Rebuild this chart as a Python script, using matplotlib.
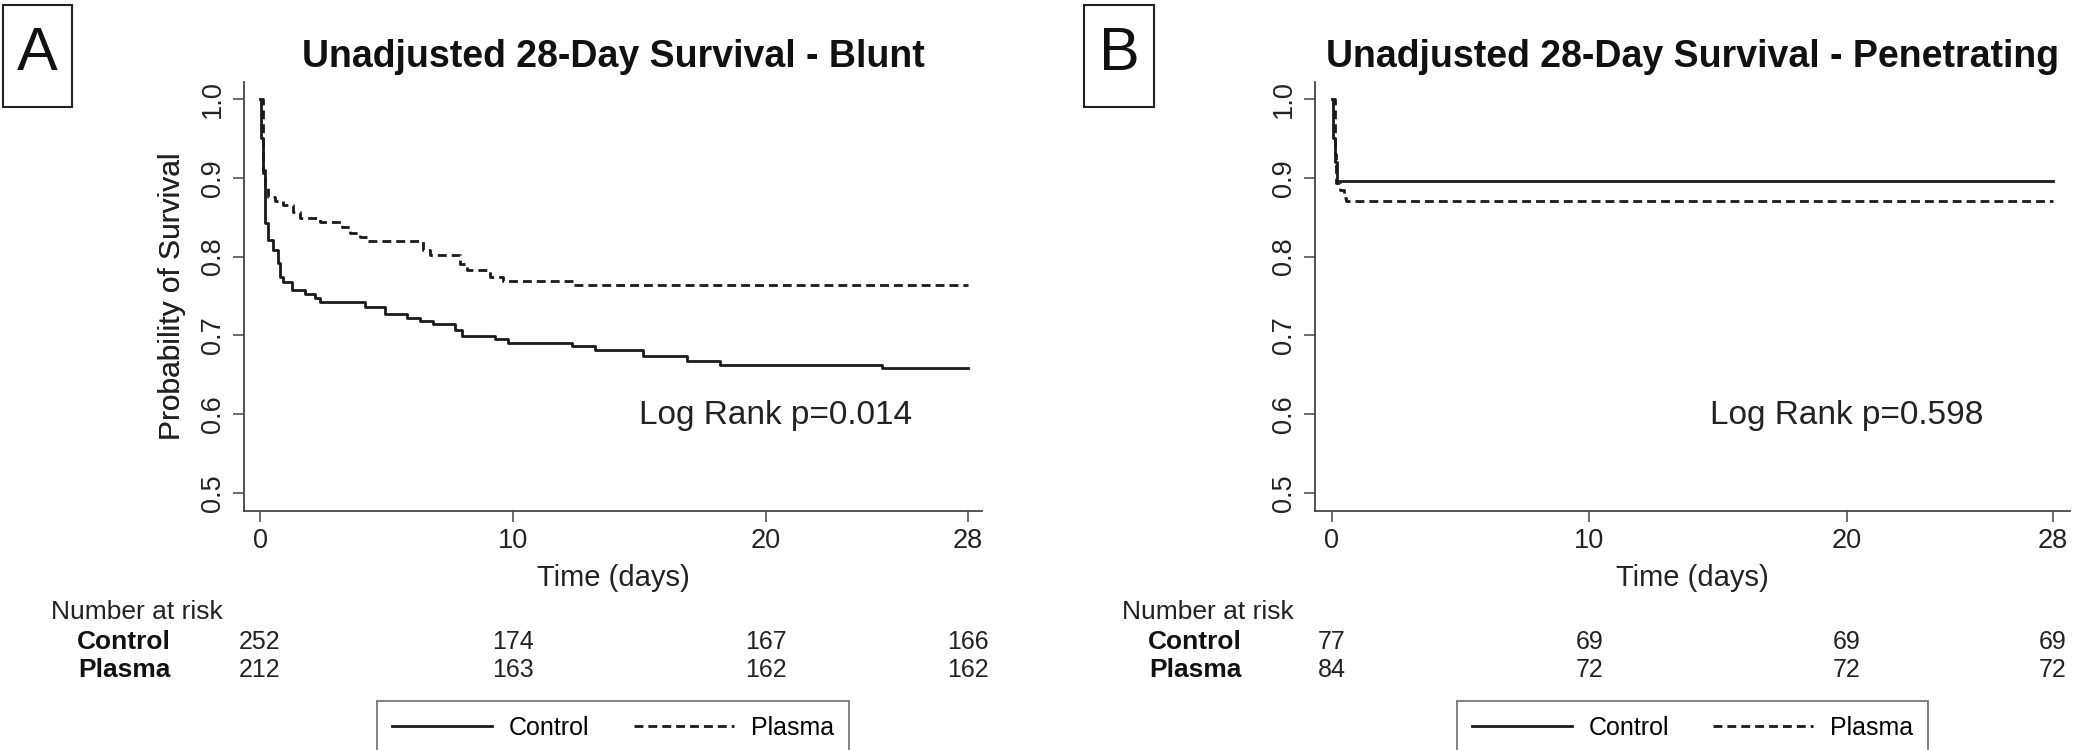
import matplotlib
matplotlib.use('Agg')
import matplotlib.pyplot as plt
from matplotlib.patches import Rectangle
import matplotlib.transforms as mtransforms

plt.rcParams['font.family'] = ['Liberation Sans', 'DejaVu Sans']

# Kaplan-Meier curves (time in days, survival)
blunt_control_t = [0, 0.05, 0.13, 0.2, 0.33, 0.53, 0.72, 0.79, 0.92, 1.25, 1.78, 2.17,
                   2.37, 4.15, 4.94, 5.8, 6.33, 6.85, 7.71, 7.97, 9.29, 9.82, 12.32,
                   13.25, 15.16, 16.87, 18.19, 24.58, 28]
blunt_control_s = [1.0, 0.95, 0.906, 0.843, 0.821, 0.808, 0.792, 0.774, 0.768, 0.758, 0.753,
                   0.747, 0.743, 0.736, 0.727, 0.722, 0.718, 0.714, 0.707, 0.699, 0.695,
                   0.690, 0.687, 0.682, 0.674, 0.667, 0.662, 0.659, 0.659]
blunt_plasma_t = [0, 0.13, 0.2, 0.33, 0.6, 0.92, 1.32, 1.58, 2.37, 3.23, 3.56, 3.95, 4.28,
                  6.46, 6.72, 7.91, 8.17, 9.09, 9.62, 12.4, 28]
blunt_plasma_s = [1.0, 0.91, 0.889, 0.876, 0.870, 0.865, 0.857, 0.849, 0.844, 0.838, 0.830,
                  0.825, 0.820, 0.808, 0.802, 0.791, 0.783, 0.774, 0.769, 0.764, 0.764]

pen_control_t = [0, 0.05, 0.1, 0.2, 28]
pen_control_s = [1.0, 0.95, 0.92, 0.896, 0.896]
pen_plasma_t = [0, 0.1, 0.15, 0.3, 0.45, 0.55, 28]
pen_plasma_s = [1.0, 0.93, 0.893, 0.885, 0.875, 0.870, 0.870]

risk_days = [0, 10, 20, 28]
blunt_risk_control = [252, 174, 167, 166]
blunt_risk_plasma = [212, 163, 162, 162]
pen_risk_control = [77, 69, 69, 69]
pen_risk_plasma = [84, 72, 72, 72]

panels = [
    dict(letter='A', title='Unadjusted 28-Day Survival - Blunt', p='Log Rank p=0.014',
         ctrl=(blunt_control_t, blunt_control_s), plas=(blunt_plasma_t, blunt_plasma_s),
         risk=(blunt_risk_control, blunt_risk_plasma),
         pos=(244, 982), xlim=(-0.633, 28.55), box=(3, 72), ptext=20.4),
    dict(letter='B', title='Unadjusted 28-Day Survival - Penetrating', p='Log Rank p=0.598',
         ctrl=(pen_control_t, pen_control_s), plas=(pen_plasma_t, pen_plasma_s),
         risk=(pen_risk_control, pen_risk_plasma),
         pos=(1315, 2070), xlim=(-0.66, 28.66), box=(1084, 1154), ptext=20.0),
]

W, H = 2095, 750
fig = plt.figure(figsize=(W / 100, H / 100), dpi=100)
top_px, bot_px = 82, 511
ax_h = bot_px - top_px
line_col = '#1a1a1a'
spine_col = '#444444'

for pn in panels:
    x0, x1 = pn['pos']
    ax = fig.add_axes([x0 / W, 1 - bot_px / H, (x1 - x0) / W, ax_h / H])
    ax_w = x1 - x0

    l1, = ax.plot(*pn['ctrl'], drawstyle='steps-post', color=line_col, lw=2, label='Control')
    l2, = ax.plot(*pn['plas'], drawstyle='steps-post', color=line_col, lw=2,
                  dashes=[3.2, 1.8], label='Plasma')

    ax.set_xlim(*pn['xlim'])
    ax.set_ylim(0.4772, 1.0216)
    ax.set_xticks(risk_days)
    ax.set_yticks([0.5, 0.6, 0.7, 0.8, 0.9, 1.0])
    ax.set_yticklabels(['0.5', '0.6', '0.7', '0.8', '0.9', '1.0'], rotation=90, va='center')
    ax.tick_params(direction='out', length=8, width=1.1, colors=spine_col,
                   labelcolor='#222222', labelsize=19.5)
    ax.tick_params(axis='x', pad=4)
    ax.tick_params(axis='y', pad=5)
    for s in ['top', 'right']:
        ax.spines[s].set_visible(False)
    for s in ['left', 'bottom']:
        ax.spines[s].set_color(spine_col)
        ax.spines[s].set_linewidth(1.3)

    ax.set_ylabel('Probability of Survival', fontsize=21.5, color='#222222', va='center')
    ax.yaxis.set_label_coords((172 - x0) / ax_w, 0.5)
    ax.set_xlabel('Time (days)', fontsize=21, color='#222222', va='center')
    ax.xaxis.set_label_coords(0.5, (bot_px - 578) / ax_h)

    ax.text(pn['ptext'], 0.598, pn['p'], fontsize=24, ha='center', va='center', color='#222222')

    cx = (x0 + x1) / 2 / W
    fig.text(cx, 1 - 57 / H, pn['title'], fontsize=27, fontweight='bold',
             ha='center', va='center', color='#111111')

    # panel letter box
    bx0, bx1 = pn['box']
    fig.add_artist(Rectangle((bx0 / W, 1 - 107 / H), (bx1 - bx0) / W, 102 / H,
                             transform=fig.transFigure, fill=False,
                             edgecolor='#222222', lw=1.5))
    fig.text((bx0 + bx1) / 2 / W, 1 - 55 / H, pn['letter'], fontsize=44,
             ha='center', va='center', color='#111111')

    # number at risk table
    trans = mtransforms.blended_transform_factory(ax.transData, ax.transAxes)
    y_head = (bot_px - 612) / ax_h
    y_c = (bot_px - 642) / ax_h
    y_p = (bot_px - 670) / ax_h
    ax.text(-193 / ax_w, y_head, 'Number at risk', transform=ax.transAxes,
            fontsize=19, ha='left', va='center', color='#222222')
    ax.text(-73 / ax_w, y_c, 'Control', transform=ax.transAxes, fontsize=19,
            fontweight='bold', ha='right', va='center', color='#111111')
    ax.text(-73 / ax_w, y_p, 'Plasma', transform=ax.transAxes, fontsize=19,
            fontweight='bold', ha='right', va='center', color='#111111')
    rc, rp = pn['risk']
    for d, a, b in zip(risk_days, rc, rp):
        ax.text(d, y_c, str(a), transform=trans, fontsize=18, ha='center', va='center',
                color='#222222')
        ax.text(d, y_p, str(b), transform=trans, fontsize=18, ha='center', va='center',
                color='#222222')

    leg = ax.legend(handles=[l1, l2], loc='upper center',
                    bbox_to_anchor=(0.5, (bot_px - 701) / ax_h), ncol=2, fontsize=18,
                    frameon=True, fancybox=False, edgecolor='#555555',
                    handlelength=4.0, handletextpad=0.68, columnspacing=1.76,
                    borderpad=0.6, borderaxespad=0)
    leg.get_frame().set_linewidth(1.3)

fig.savefig('out.png', dpi=100, facecolor='white')
